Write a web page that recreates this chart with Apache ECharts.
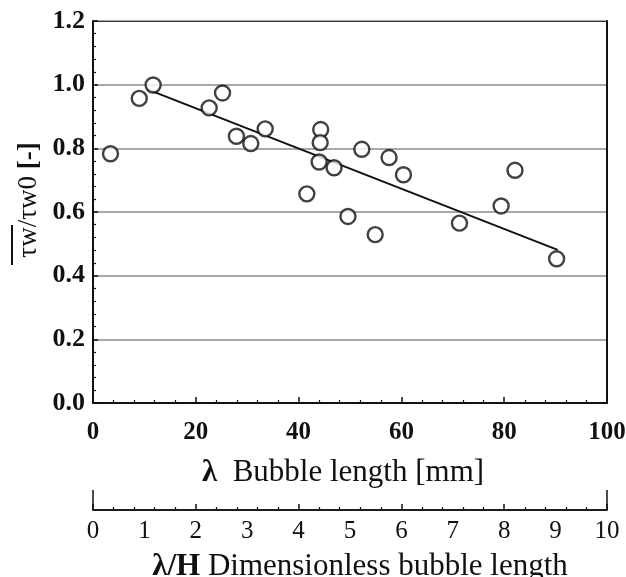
<!DOCTYPE html>
<html>
<head>
<meta charset="utf-8">
<script src="https://cdn.jsdelivr.net/npm/echarts@6/dist/echarts.min.js"></script>
<style>
  html, body { margin: 0; padding: 0; background: #fff; }
  #chart { width: 626px; height: 577px; }
</style>
</head>
<body>
<div id="chart"></div>
<script>
// Bubble length in mm and the mean wall shear stress ratio measured for each bubble
const lambdaMm = [3.4, 9.0, 11.7, 22.6, 25.2, 27.9, 30.7, 33.5, 41.6, 44.3, 44.2,
                  44.0, 46.9, 49.6, 52.3, 54.9, 57.6, 60.4, 71.3, 79.4, 82.1, 90.2];
const tauRatio = [0.783, 0.957, 0.999, 0.927, 0.974, 0.838, 0.815, 0.861, 0.657, 0.859, 0.818,
                  0.757, 0.739, 0.586, 0.797, 0.529, 0.771, 0.717, 0.565, 0.619, 0.731, 0.453];

// End points of the linear trend line
const fitX = [10.6, 90.4];
const fitY = [0.985, 0.481];

// Tick values of the three scales
const xTicks = [0, 20, 40, 60, 80, 100];
const yTicks = [0, 0.2, 0.4, 0.6, 0.8, 1.0, 1.2];
const dimTicks = [0, 1, 2, 3, 4, 5, 6, 7, 8, 9, 10];

const SERIF = '"Liberation Serif", "Times New Roman", serif';
const INK = '#111';

const chart = echarts.init(document.getElementById('chart'), null, { renderer: 'canvas' });

const last = a => a[a.length - 1];
const dimStep = 2; // major tick spacing on the dimensionless scale

const option = {
  backgroundColor: '#fff',
  animation: false,
  grid: {
    left: 93, top: 21, width: 514, height: 382,
    containLabel: false, outerBoundsMode: 'none'
  },
  xAxis: [
    {
      type: 'value', position: 'bottom',
      min: xTicks[0], max: last(xTicks), interval: xTicks[1] - xTicks[0],
      axisLine: { show: true, onZero: false, lineStyle: { color: INK, width: 2 } },
      axisTick: { show: true, inside: true, length: 6, lineStyle: { color: INK, width: 1.5 } },
      minorTick: { show: true, splitNumber: 5, length: 3, lineStyle: { color: INK, width: 1.2 } },
      splitLine: { show: false },
      axisLabel: { margin: 17, fontFamily: SERIF, fontWeight: 'bold', fontSize: 25, color: INK },
      name: '{l|λ}{t|  Bubble length [mm]}',
      nameLocation: 'middle', nameGap: 54,
      nameTextStyle: {
        rich: {
          l: { fontFamily: SERIF, fontWeight: 'bold', fontSize: 31, color: INK },
          t: { fontFamily: SERIF, fontSize: 31, color: INK, padding: [0, 14, 0, 0] }
        }
      }
    },
    {
      // top edge of the frame
      type: 'value', position: 'top',
      min: xTicks[0], max: last(xTicks),
      axisLine: { show: true, onZero: false, lineStyle: { color: '#333', width: 1 } },
      axisTick: { show: false }, axisLabel: { show: false }, splitLine: { show: false }
    },
    {
      // dimensionless scale: line and ticks
      type: 'value', position: 'bottom', offset: 107,
      min: dimTicks[0], max: last(dimTicks), interval: dimStep,
      axisLine: { show: true, onZero: false, lineStyle: { color: INK, width: 1.5 } },
      axisTick: { show: true, inside: true, length: 6, lineStyle: { color: INK, width: 1.5 } },
      minorTick: { show: true, splitNumber: 5, length: 3, lineStyle: { color: INK, width: 1.2 } },
      axisLabel: { show: false }, splitLine: { show: false }
    },
    {
      // dimensionless scale: labels and title
      type: 'value', position: 'bottom', offset: 107,
      min: dimTicks[0], max: last(dimTicks), interval: dimTicks[1] - dimTicks[0],
      axisLine: { show: false }, axisTick: { show: false }, splitLine: { show: false },
      axisLabel: { margin: 9, fontFamily: SERIF, fontSize: 25, color: INK },
      name: '{l|λ/H}{t| Dimensionless bubble length}',
      nameLocation: 'middle', nameGap: 41,
      nameTextStyle: {
        rich: {
          l: { fontFamily: SERIF, fontWeight: 'bold', fontSize: 31, color: INK, padding: [0, 0, 0, 20] },
          t: { fontFamily: SERIF, fontSize: 31, color: INK }
        }
      }
    },
    {
      // tall end caps of the dimensionless scale
      type: 'value', position: 'bottom', offset: 107,
      min: dimTicks[0], max: last(dimTicks), interval: last(dimTicks) - dimTicks[0],
      axisLine: { show: true, onZero: false, lineStyle: { color: INK, width: 1.5 } },
      axisTick: { show: true, inside: true, length: 20, lineStyle: { color: INK, width: 1.5 } },
      axisLabel: { show: false }, splitLine: { show: false }
    }
  ],
  yAxis: [
    {
      type: 'value', position: 'left',
      min: yTicks[0], max: last(yTicks), interval: yTicks[1] - yTicks[0],
      axisLine: { show: true, onZero: false, lineStyle: { color: INK, width: 2 } },
      axisTick: { show: true, inside: true, length: 5, lineStyle: { color: INK, width: 1.5 } },
      minorTick: { show: true, splitNumber: 5, length: 3, lineStyle: { color: INK, width: 1.2 } },
      splitLine: { show: true, lineStyle: { color: '#8c8c8c', width: 1.5 } },
      axisLabel: {
        margin: 8, fontFamily: SERIF, fontWeight: 'bold', fontSize: 26, color: INK,
        formatter: v => v.toFixed(1)
      }
    },
    {
      // right edge of the frame
      type: 'value', position: 'right',
      min: yTicks[0], max: last(yTicks),
      axisLine: { show: true, onZero: false, lineStyle: { color: INK, width: 2 } },
      axisTick: { show: false }, axisLabel: { show: false }, splitLine: { show: false }
    }
  ],
  graphic: [
    {
      // vertical axis title: mean wall shear stress over its reference value
      type: 'group', x: 29, y: 200, rotation: Math.PI / 2, silent: true,
      children: [
        {
          type: 'text', x: 0, y: 0,
          style: {
            text: '{a|τw/τw0 }{b|[-]}',
            align: 'center', verticalAlign: 'middle',
            rich: {
              a: { fontFamily: SERIF, fontSize: 27, fill: INK },
              b: { fontFamily: SERIF, fontWeight: 'bold', fontSize: 27, fill: INK }
            }
          }
        },
        {
          // overbar marking the mean of the first τw
          type: 'line',
          shape: { x1: -65, y1: -17, x2: -25, y2: -17 },
          style: { stroke: INK, lineWidth: 2 }
        }
      ]
    }
  ],
  series: [
    {
      type: 'line', xAxisIndex: 0, yAxisIndex: 0,
      data: fitX.map((x, i) => [x, fitY[i]]),
      symbol: 'none', lineStyle: { color: INK, width: 2 }, z: 2
    },
    {
      type: 'scatter', xAxisIndex: 0, yAxisIndex: 0,
      data: lambdaMm.map((x, i) => [x, tauRatio[i]]),
      symbol: 'circle', symbolSize: 15,
      itemStyle: { color: '#fff', borderColor: INK, borderWidth: 2.4 }, z: 3
    }
  ]
};

chart.setOption(option);
</script>
</body>
</html>
